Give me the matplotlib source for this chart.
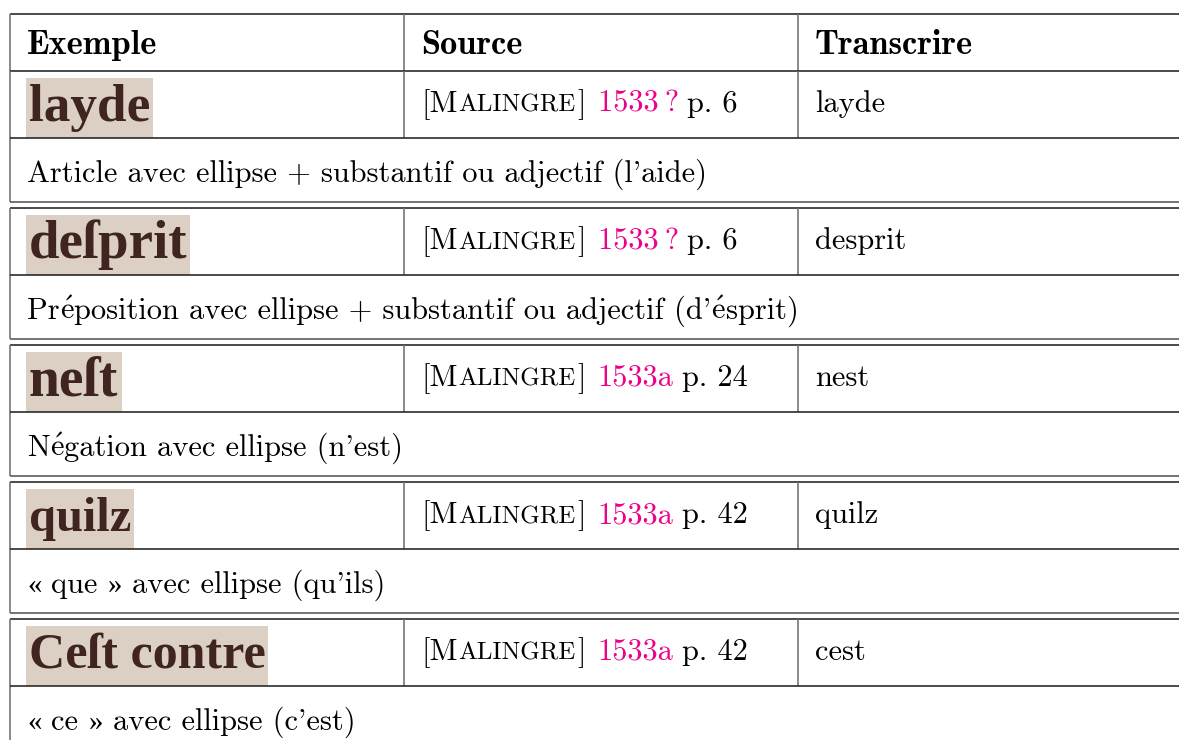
import matplotlib
matplotlib.use("Agg")
import matplotlib.pyplot as plt
from matplotlib.patches import Rectangle

plt.rcParams["mathtext.fontset"] = "cm"

# ---------------- data ----------------
headers = ["Exemple", "Source", "Transcrire"]
scans = ["layde", "deſprit", "neſt", "quilz", "Ceſt contre"]
authors = ["Malingre", "Malingre", "Malingre", "Malingre", "Malingre"]
years = ["1533\u2009?", "1533\u2009?", "1533a", "1533a", "1533a"]
pages = ["p. 6", "p. 6", "p. 24", "p. 42", "p. 42"]
transcriptions = ["layde", "desprit", "nest", "quilz", "cest"]
descriptions = [
    "Article avec ellipse + substantif ou adjectif (l'aide)",
    "Préposition avec ellipse + substantif ou adjectif (d'ésprit)",
    "Négation avec ellipse (n'est)",
    "« que » avec ellipse (qu'ils)",
    "« ce » avec ellipse (c'est)",
]
scan_widths = [127, 164, 96, 108, 242]

# ---------------- layout ----------------
W, H = 1179, 740
fig = plt.figure(figsize=(W / 100, H / 100), dpi=100)
ax = fig.add_axes([0, 0, 1, 1])
ax.set_xlim(0, W)
ax.set_ylim(H, 0)
ax.axis("off")
renderer = fig.canvas.get_renderer()

ROMAN = ["cmr10", "DejaVu Serif"]
BOLD = ["cmb10", "DejaVu Serif"]
FS = 21.9
FSB = 24.8
PINK = "#ec008c"
HLINE = "#222222"
VLINE = "#707070"
LW = 1.15

x_left, x_c1, x_c2, x_right = 10, 404, 798, 1185
pad = 17
header_h, img_h, desc_h, gap = 57, 67, 64, 6


def hline(y, color=HLINE):
    ax.plot([x_left, x_right], [y, y], color=color, lw=LW, solid_capstyle="butt")


def vline(x, y0, y1, color=VLINE):
    ax.plot([x, x], [y0, y1], color=color, lw=LW, solid_capstyle="butt")


def text_width(s, size, fam):
    t = ax.text(0, 0, s, fontsize=size, family=fam)
    w = t.get_window_extent(renderer).width
    t.remove()
    return w


SPACE = text_width("x x", FS, ROMAN) - text_width("xx", FS, ROMAN)


def pieces(x, y, parts):
    """draw consecutive text parts: (text, size, color, family, gap_after)"""
    for txt, size, color, fam, gap_after in parts:
        t = ax.text(x, y, txt, fontsize=size, color=color, family=fam,
                    va="baseline", ha="left")
        bb = t.get_window_extent(renderer)
        x = bb.x1 + gap_after
    return x


def rich(x, y, s, size=FS, color="black"):
    """draw a line in cmr10, with accents and guillemets handled separately"""
    runs = []
    cur = ""
    for ch in s:
        if ch in "«»é":
            if cur:
                runs.append(("cm", cur))
            cur = ""
            runs.append(("sp", ch))
        else:
            cur += ch
    if cur:
        runs.append(("cm", cur))
    for kind, r in runs:
        if kind == "sp":
            if r == "é":
                t = ax.text(x, y, r"$\mathrm{\acute{e}}$", fontsize=size,
                            color=color, va="baseline", ha="left")
            else:
                t = ax.text(x, y, r, fontsize=size * 0.95, color=color,
                            family="Liberation Serif", va="baseline", ha="left")
            x = t.get_window_extent(renderer).x1
            continue
        lead = len(r) - len(r.lstrip(" "))
        trail = len(r) - len(r.rstrip(" "))
        x += lead * SPACE
        core = r.strip(" ")
        if core:
            t = ax.text(x, y, core, fontsize=size, color=color, family=ROMAN,
                        va="baseline", ha="left")
            x = t.get_window_extent(renderer).x1
        x += trail * SPACE
    return x


y = 14
# header
hline(y)
vline(x_left, y, y + header_h)
vline(x_c1, y, y + header_h)
vline(x_c2, y, y + header_h)
for xx, h in zip([x_left, x_c1, x_c2], headers):
    ax.text(xx + pad, y + 40, h, fontsize=FSB, family=BOLD, va="baseline",
            ha="left", color="black")
y += header_h

for i in range(len(scans)):
    if i > 0:
        y += gap
    top = y
    hline(top)
    # image row
    vline(x_left, top, top + img_h + desc_h)
    vline(x_c1, top, top + img_h)
    vline(x_c2, top, top + img_h)
    # scan image look-alike
    bx0, by0, bw, bh = x_left + 16, top + 7, scan_widths[i], 60
    ax.add_patch(Rectangle((bx0, by0), bw, bh, facecolor="#dcd0c4",
                           edgecolor="none", zorder=1))
    st = ax.text(bx0 + 3, by0 + bh * 0.5, scans[i], fontsize=30,
                 family="Liberation Serif", weight="bold", color="#3f2420",
                 va="center", ha="left", zorder=2)
    w = st.get_window_extent(renderer).width
    st.set_fontsize(min(30 * (bw - 6) / w, 40))
    # source with small caps
    au = authors[i]
    base = top + 41
    pieces(x_c1 + pad, base, [
        ("[" + au[0], FS, "black", ROMAN, 1.2),
        (au[1:].upper(), FS * 0.82, "black", ROMAN, 1.2),
        ("]", FS, "black", ROMAN, 12),
        (years[i], FS, PINK, ROMAN, 8),
        (pages[i], FS, "black", ROMAN, 0),
    ])
    ax.text(x_c2 + pad, base, transcriptions[i], fontsize=FS, family=ROMAN,
            va="baseline", ha="left", color="black")
    y += img_h
    hline(y)
    # description row
    rich(x_left + pad, y + 44, descriptions[i])
    y += desc_h
    hline(y, color="#555555")

fig.savefig("out.png", dpi=100)
